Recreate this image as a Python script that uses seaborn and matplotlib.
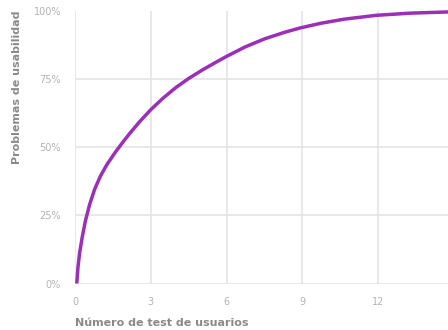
import seaborn as sns
import pandas as pd
import matplotlib.pyplot as plt
from matplotlib.ticker import PercentFormatter

# values
usuarios = [0.07, 0.12, 0.18, 0.29, 0.41, 0.57, 0.77, 1.0, 1.26, 1.59, 1.92, 2.16, 2.55,
            2.99, 3.47, 3.99, 4.51, 5.03, 5.56, 6.01, 6.73, 7.51, 8.3, 8.92, 9.73,
            10.65, 11.91, 13.25, 14.56, 15.0]
problemas = [0, 6.2, 11.1, 17.2, 22.9, 28.7, 34.4, 39.3, 43.6, 48.1, 52.2, 55.0, 59.3,
             63.7, 67.9, 71.9, 75.3, 78.3, 81.1, 83.4, 86.8, 89.8, 92.2, 93.8, 95.5,
             97.0, 98.4, 99.2, 99.6, 99.7]
x_ticks = [0, 3, 6, 9, 12, 15]
y_ticks = [0, 25, 50, 75, 100]

df = pd.DataFrame({"usuarios": usuarios, "problemas": problemas})

sns.set_theme(style="whitegrid")
plt.rcParams['font.family'] = ['DejaVu Sans']
grid_c = '#e4e4e4'

fig = plt.figure(figsize=(4.48, 3.30), dpi=100)
ax = fig.add_axes([75 / 448, 1 - 283.5 / 330, (454 - 75) / 448, (283.5 - 11) / 330])

sns.lineplot(data=df, x="usuarios", y="problemas", color="#9b2fb8", linewidth=2.5,
             ax=ax, clip_on=False, solid_capstyle='butt', solid_joinstyle='round')

ax.set_xlim(0, 15)
ax.set_ylim(0, 100)
ax.set_xticks(x_ticks)
ax.set_yticks(y_ticks)
ax.yaxis.set_major_formatter(PercentFormatter(100, decimals=0))
ax.grid(True, color=grid_c, linewidth=1.2)
ax.get_ygridlines()[-1].set_visible(False)
for s in ax.spines.values():
    s.set_visible(False)
ax.tick_params(axis='both', length=6, width=1.2, color=grid_c, labelsize=7,
               labelcolor='#b3b3b3', pad=4)

ax.set_xlabel('Número de test de usuarios', fontsize=8, fontweight='bold',
              color='#8a8a8a', loc='left', labelpad=8)
ax.set_ylabel('Problemas de usabilidad', fontsize=8, fontweight='bold',
              color='#8a8a8a', loc='top', labelpad=8)

fig.savefig('out.png', dpi=100)
